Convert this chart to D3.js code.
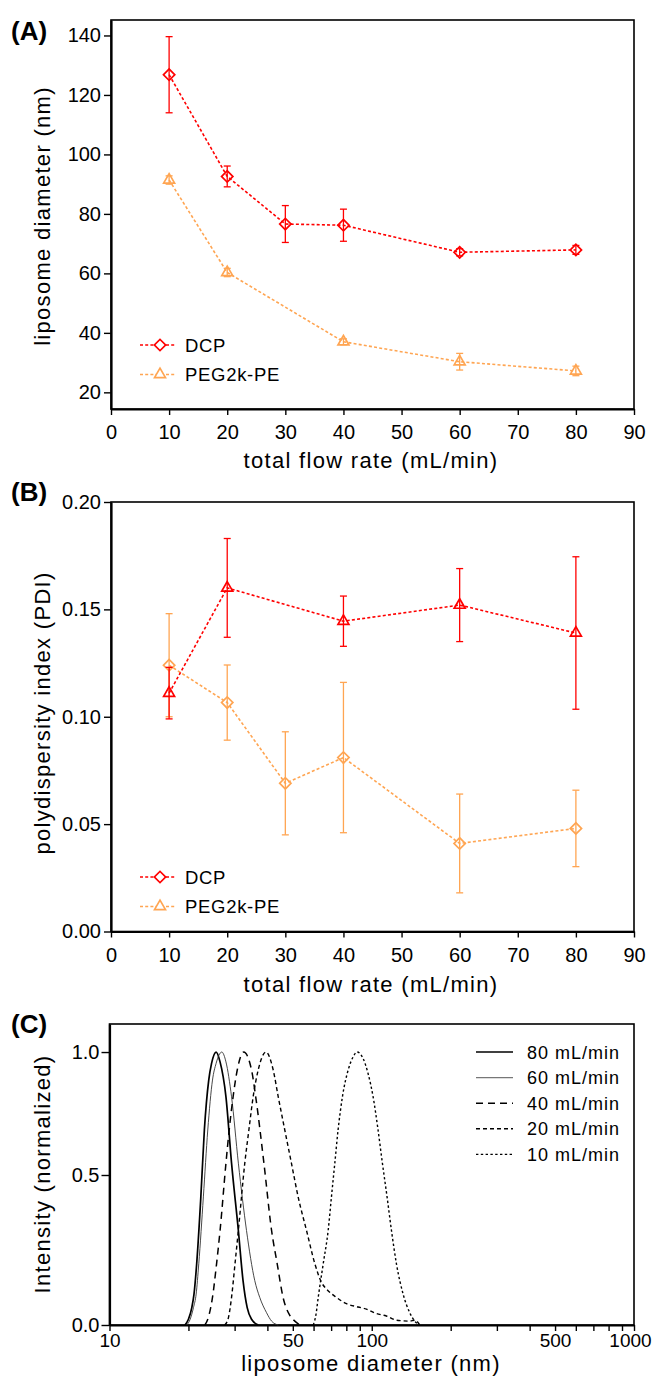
<!DOCTYPE html>
<html>
<head>
<meta charset="utf-8">
<script src="https://cdn.jsdelivr.net/npm/d3@7"></script>
<style>
body { margin: 0; background: #fff; }
text { font-family: "Liberation Sans", Arial, sans-serif; fill: #000; }
</style>
</head>
<body>
<svg id="fig" width="652" height="1376"></svg>
<script>
// ---- panel A: liposome diameter vs total flow rate
var flowDcpA = [10, 20, 30, 40, 60, 80];
var dcpSize = [126.8, 92.6, 76.6, 76.2, 67.1, 67.9];
var dcpSizeErr = [12.8, 3.5, 6.2, 5.4, 1.2, 1.5];
var flowPegA = [10, 20, 40, 60, 80];
var pegSize = [91.4, 60.3, 37.0, 30.3, 27.2];
var pegSizeErr = [1.4, 1.4, 1.0, 2.8, 1.6];

// ---- panel B: PDI vs total flow rate
var flowDcpB = [10, 20, 40, 60, 80];
var dcpPdi = [0.111, 0.160, 0.1445, 0.152, 0.139];
var dcpPdiErr = [0.012, 0.023, 0.0117, 0.017, 0.0355];
var flowPegB = [10, 20, 30, 40, 60, 80];
var pegPdi = [0.124, 0.1066, 0.069, 0.081, 0.041, 0.048];
var pegPdiErr = [0.024, 0.0175, 0.024, 0.035, 0.023, 0.0178];

var flowTicks = [0, 10, 20, 30, 40, 50, 60, 70, 80, 90];
var sizeTicks = [20, 40, 60, 80, 100, 120, 140];
var pdiTicks = [0, 0.05, 0.10, 0.15, 0.20];

// ---- panel C: intensity size distributions (diameter nm, normalized intensity)
var d80 = [19.4, 20.0, 20.6, 21.0, 21.5, 22.3, 23.0, 23.9, 24.5, 25.5, 26.4, 27.8, 29.2, 31.0, 32.3, 33.5, 34.8, 36.9];
var i80 = [0, 0.019, 0.058, 0.103, 0.204, 0.427, 0.683, 0.886, 0.954, 1.0, 0.96, 0.818, 0.548, 0.315, 0.148, 0.058, 0.019, 0];
var d60 = [19.7, 20.3, 20.9, 21.4, 21.9, 22.8, 23.7, 24.7, 25.5, 26.8, 27.8, 29.2, 31.0, 33.3, 35.8, 37.4, 39.7, 41.5, 44.0];
var i60 = [0, 0.019, 0.058, 0.103, 0.204, 0.427, 0.683, 0.886, 0.954, 1.0, 0.96, 0.818, 0.548, 0.315, 0.148, 0.092, 0.041, 0.013, 0];
var d40 = [23.1, 23.8, 24.7, 25.6, 26.4, 27.8, 28.6, 29.6, 30.7, 32.5, 34.8, 36.1, 38.8, 41.5, 43.6, 45.9, 48.7, 50.9, 53.2];
var i40 = [0, 0.024, 0.092, 0.204, 0.315, 0.548, 0.683, 0.818, 0.927, 1.0, 0.927, 0.818, 0.548, 0.315, 0.204, 0.092, 0.032, 0.013, 0];
var d20 = [27.5, 28.4, 29.2, 30.1, 31.0, 32.8, 34.0, 35.3, 36.9, 39.5, 42.1, 44.0, 46.6, 49.4, 52.4, 56.4, 60.7, 64.3, 67.2, 73.3, 80.1, 88.7, 95.4, 104.2, 113.7, 124.2, 139.6, 145.8, 152.4];
var i20 = [0, 0.024, 0.092, 0.204, 0.315, 0.548, 0.683, 0.818, 0.927, 1.0, 0.927, 0.818, 0.683, 0.548, 0.427, 0.315, 0.204, 0.142, 0.12, 0.092, 0.071, 0.06, 0.053, 0.038, 0.03, 0.016, 0.013, 0.016, 0];
var d10 = [59.8, 61.2, 62.5, 65.3, 68.2, 70.2, 72.3, 74.4, 77.3, 81.3, 84.9, 87.9, 92.7, 96.8, 101.2, 105.7, 109.8, 114.4, 118.9, 124.2, 131.7, 139.6, 145.8, 152.4];
var i10 = [0, 0.032, 0.092, 0.204, 0.315, 0.427, 0.548, 0.683, 0.818, 0.927, 0.98, 1.0, 0.974, 0.913, 0.818, 0.683, 0.548, 0.427, 0.315, 0.204, 0.103, 0.041, 0.013, 0];
var distNames = ["80 mL/min", "60 mL/min", "40 mL/min", "20 mL/min", "10 mL/min"];

var diamTicks = [10, 20, 30, 40, 50, 60, 70, 80, 90, 100, 200, 300, 400, 500, 600, 700, 800, 900, 1000];
var diamLabels = [10, 50, 100, 500, 1000];
var intTicks = [0, 0.5, 1.0];

var red = "#ff0000", orange = "#ffa552";
var font = "\"Liberation Sans\", Arial, sans-serif";

var svg = d3.select("#fig");

// scales
var xA = d3.scaleLinear().domain([0, 90]).range([111, 634]);
var yA = d3.scaleLinear().domain([14.4, 145.2]).range([409, 20]);
var xB = d3.scaleLinear().domain([0, 90]).range([111, 634]);
var yB = d3.scaleLinear().domain([0, 0.2]).range([931.5, 502]);
var xC = d3.scaleLog().domain([10, 1000]).range([109.5, 634]);
var yC = d3.scaleLinear().domain([0, 0.5, 1.114]).range([1325, 1175, 1024]);

function frame(x, y) {
    var xr = d3.extent(x.range()), yr = d3.extent(y.range());
    svg.append("rect")
        .attr("x", xr[0]).attr("y", yr[0])
        .attr("width", xr[1] - xr[0])
        .attr("height", yr[1] - yr[0])
        .attr("fill", "none").attr("stroke", "#000").attr("stroke-width", 1.6);
}

function styleAxis(g) {
    g.attr("font-family", font).attr("font-size", 20);
    g.select(".domain").attr("stroke-width", 2.2);
    g.selectAll(".tick line").attr("stroke-width", 1.4);
}

function axes(x, y, xt, yt, yfmt, xpad) {
    svg.append("g").attr("transform", "translate(0," + d3.max(y.range()) + ")")
        .call(d3.axisBottom(x).tickValues(xt).tickSize(6).tickSizeOuter(0).tickPadding(xpad))
        .call(styleAxis);
    svg.append("g").attr("transform", "translate(" + x.range()[0] + ",0)")
        .call(d3.axisLeft(y).tickValues(yt).tickFormat(yfmt).tickSize(7).tickSizeOuter(0).tickPadding(3))
        .call(styleAxis);
}

function series(x, y, xs, vs, es, color, shape) {
    var pts = xs.map(function(d, i) { return { x: d, v: vs[i], e: es[i] }; });
    var line = d3.line().x(function(d) { return x(d.x); }).y(function(d) { return y(d.v); });
    svg.append("path").datum(pts).attr("d", line)
        .attr("fill", "none").attr("stroke", color).attr("stroke-width", 1.6)
        .attr("stroke-dasharray", "3,2.2");
    var bars = svg.append("g").attr("stroke", color).attr("stroke-width", 1.3);
    bars.selectAll("line.v").data(pts).enter().append("line")
        .attr("x1", function(d) { return x(d.x); }).attr("x2", function(d) { return x(d.x); })
        .attr("y1", function(d) { return y(d.v - d.e); }).attr("y2", function(d) { return y(d.v + d.e); });
    [-1, 1].forEach(function(s) {
        bars.selectAll("line.c" + s).data(pts).enter().append("line")
            .attr("x1", function(d) { return x(d.x) - 3.5; }).attr("x2", function(d) { return x(d.x) + 3.5; })
            .attr("y1", function(d) { return y(d.v + s * d.e); }).attr("y2", function(d) { return y(d.v + s * d.e); });
    });
    svg.selectAll(null).data(pts).enter().append("path")
        .attr("d", marker(shape))
        .attr("transform", function(d) { return "translate(" + x(d.x) + "," + y(d.v) + ")" + (shape == "diamond" ? " rotate(45)" : ""); })
        .attr("fill", "none").attr("stroke", color).attr("stroke-width", 1.7);
}

function marker(shape) {
    return shape == "diamond" ? d3.symbol().type(d3.symbolSquare).size(64)() : d3.symbol().type(d3.symbolTriangle).size(52)();
}

function legend(y0, items) {
    items.forEach(function(it, i) {
        var yy = y0 + i * 29.5;
        svg.append("line").attr("x1", 140).attr("x2", 176).attr("y1", yy).attr("y2", yy)
            .attr("stroke", it.color).attr("stroke-width", 1.6).attr("stroke-dasharray", "3,2.2");
        svg.append("path").attr("d", marker(it.shape))
            .attr("transform", "translate(160," + yy + ")" + (it.shape == "diamond" ? " rotate(45)" : ""))
            .attr("fill", "#fff").attr("stroke", it.color).attr("stroke-width", 1.7);
        svg.append("text").attr("x", 185).attr("y", yy + 6.5).attr("font-size", 18.5)
            .attr("letter-spacing", 0.7).text(it.name);
    });
}

function xTitle(txt, x, y) {
    svg.append("text").attr("x", x).attr("y", y).attr("text-anchor", "middle")
        .attr("font-size", 22).attr("letter-spacing", 1.3).text(txt);
}
function yTitle(txt, x, y) {
    svg.append("text").attr("transform", "translate(" + x + "," + y + ") rotate(-90)")
        .attr("text-anchor", "middle").attr("font-size", 22).attr("letter-spacing", 1.3).text(txt);
}
function panelLabel(txt, y) {
    svg.append("text").attr("x", 11).attr("y", y).attr("font-size", 26)
        .attr("font-weight", "bold").text(txt);
}

// ---- (A)
frame(xA, yA);
axes(xA, yA, flowTicks, sizeTicks, d3.format("d"), 10);
series(xA, yA, flowPegA, pegSize, pegSizeErr, orange, "triangle");
series(xA, yA, flowDcpA, dcpSize, dcpSizeErr, red, "diamond");
legend(345, [{ name: "DCP", color: red, shape: "diamond" }, { name: "PEG2k-PE", color: orange, shape: "triangle" }]);
xTitle("total flow rate (mL/min)", 371, 468);
yTitle("liposome diameter (nm)", 50, 216);
panelLabel("(A)", 40);

// ---- (B)
frame(xB, yB);
axes(xB, yB, flowTicks, pdiTicks, d3.format(".2f"), 10);
series(xB, yB, flowPegB, pegPdi, pegPdiErr, orange, "diamond");
series(xB, yB, flowDcpB, dcpPdi, dcpPdiErr, red, "triangle");
legend(877, [{ name: "DCP", color: red, shape: "diamond" }, { name: "PEG2k-PE", color: orange, shape: "triangle" }]);
xTitle("total flow rate (mL/min)", 371, 992);
yTitle("polydispersity index (PDI)", 50, 713);
panelLabel("(B)", 501);

// ---- (C)
frame(xC, yC);
var axC = svg.append("g").attr("transform", "translate(0,1325)")
    .call(d3.axisBottom(xC).tickValues(diamTicks)
        .tickFormat(function(d) { return diamLabels.indexOf(d) >= 0 ? d : ""; })
        .tickSize(6).tickSizeOuter(0).tickPadding(3))
    .call(styleAxis);
axC.attr("font-size", 19);
axC.selectAll(".tick text").filter(function(d) { return d == 1000; }).attr("dx", -4);
svg.append("g").attr("transform", "translate(109.5,0)")
    .call(d3.axisLeft(yC).tickValues(intTicks).tickFormat(d3.format(".1f")).tickSize(8).tickSizeOuter(0).tickPadding(2))
    .call(styleAxis);

var dists = [
    { d: d80, v: i80, w: 1.7, dash: null, col: "#000" },
    { d: d60, v: i60, w: 0.9, dash: null, col: "#333" },
    { d: d40, v: i40, w: 1.5, dash: "7,5", col: "#000" },
    { d: d20, v: i20, w: 1.4, dash: "4,3", col: "#000" },
    { d: d10, v: i10, w: 1.4, dash: "2.4,2.4", col: "#000" }
];
var distLine = d3.line()
    .x(function(p) { return xC(p[0]); })
    .y(function(p) { return yC(p[1]); })
    .curve(d3.curveMonotoneX);
dists.forEach(function(s, i) {
    var pts = s.d.map(function(d, j) { return [d, s.v[j]]; });
    svg.append("path").datum(pts).attr("d", distLine)
        .attr("fill", "none").attr("stroke", s.col).attr("stroke-width", s.w)
        .attr("stroke-dasharray", s.dash);
    var yy = 1052 + i * 25.6;
    svg.append("line").attr("x1", 476).attr("x2", 513).attr("y1", yy).attr("y2", yy)
        .attr("stroke", i == 1 ? "#777" : s.col).attr("stroke-width", i == 1 ? 1.4 : s.w)
        .attr("stroke-dasharray", s.dash);
    svg.append("text").attr("x", 527).attr("y", yy + 6.5).attr("font-size", 18)
        .attr("letter-spacing", 1).text(distNames[i]);
});

xTitle("liposome diameter (nm)", 371, 1371);
yTitle("Intensity (normalized)", 50, 1174);
panelLabel("(C)", 1033);
</script>
</body>
</html>
